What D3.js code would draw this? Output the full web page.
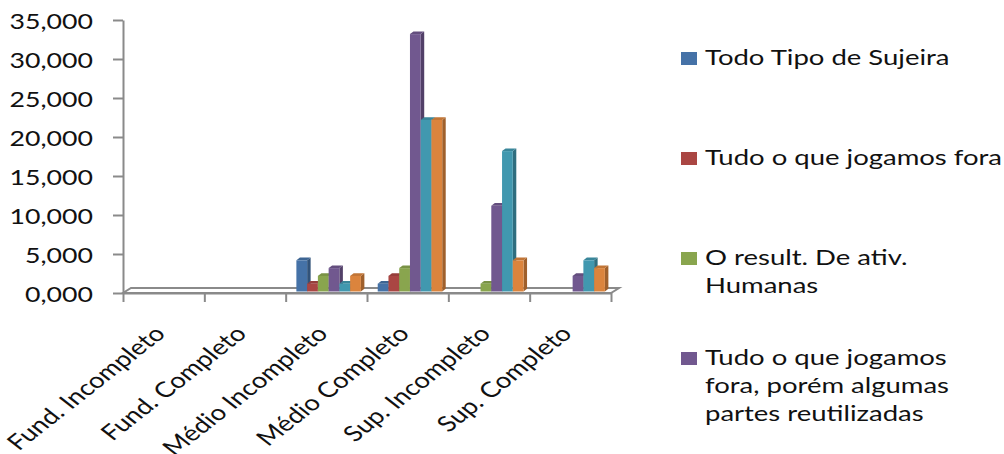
<!DOCTYPE html>
<html>
<head>
<meta charset="utf-8">
<script src="https://cdn.jsdelivr.net/npm/d3@7"></script>
<style>
  html, body { margin: 0; padding: 0; background: #fff; overflow: hidden; }
  svg { display: block; font-family: Lato, "Open Sans", sans-serif; }
</style>
</head>
<body>
<svg id="chart" width="1004" height="454"></svg>
<script>
// Categories (education level) and one array of values per series
const categories = ["Fund. Incompleto", "Fund. Completo", "Médio Incompleto", "Médio Completo", "Sup. Incompleto", "Sup. Completo"];
const seriesNames = [
  "Todo Tipo de Sujeira",
  "Tudo o que jogamos fora",
  "O result. De ativ. Humanas",
  "Tudo o que jogamos fora, porém algumas partes reutilizadas",
  "Série 5",
  "Série 6"
];
const todoTipo      = [0, 0, 4, 1, 0, 0];
const tudoFora      = [0, 0, 1, 2, 0, 0];
const resultAtiv    = [0, 0, 2, 3, 1, 0];
const foraReutiliz  = [0, 0, 3, 33, 11, 2];
const serie5        = [0, 0, 1, 22, 18, 4];
const serie6        = [0, 0, 2, 22, 4, 3];
const seriesValues = [todoTipo, tudoFora, resultAtiv, foraReutiliz, serie5, serie6];
const yTicks = [0, 5, 10, 15, 20, 25, 30, 35];
const colors = ["#4572A7", "#AA4643", "#89A54E", "#71588F", "#4198AF", "#DB843D"];

// Layout
const SX = 1.27;            // horizontal stretch applied to axis text
const SXL = 1.25;           // horizontal stretch for legend text
const plotL = 123, plotR = 611, plotT = 20, plotB = 293;
const depthX = 8, depthY = 5;      // floor depth
const barDX = 3.5, barDY = 2.7;    // bar side/top depth
const barShiftX = 2.3, barShiftY = -1.5;
const axisColor = "#8a8a8a";
const svgH = 454;

const svg = d3.select("#chart");
const ptBR = d3.formatLocale({ decimal: ",", thousands: ".", grouping: [3], currency: ["R$", ""] });
const fmt = ptBR.format(".3f");

const y = d3.scaleLinear().domain([0, 35]).range([plotB, plotT]);
const x0 = d3.scaleBand().domain(categories).range([plotL, plotR]).paddingInner(0.207).paddingOuter(0.1035);
const x1 = d3.scaleBand().domain(d3.range(seriesNames.length)).range([0, x0.bandwidth()]);
const xb = d3.scaleLinear().domain([0, categories.length]).range([plotL, plotR]);

// Floor
svg.append("path")
  .attr("d", `M${plotL},${plotB}L${plotR},${plotB}L${plotR + depthX},${plotB - depthY}L${plotL + depthX},${plotB - depthY}Z`)
  .attr("fill", "#fff").attr("stroke", axisColor).attr("stroke-width", 2);

// Category tick marks along the front edge
const xAxis = svg.append("g").attr("transform", `translate(0,${plotB})`)
  .call(d3.axisBottom(xb).tickValues(d3.range(categories.length + 1)).tickSize(9).tickSizeOuter(0).tickFormat(""));
xAxis.select(".domain").attr("stroke", axisColor).attr("stroke-width", 2);
xAxis.selectAll(".tick line").attr("stroke", axisColor).attr("stroke-width", 2);

// Value axis
const yAxis = svg.append("g").attr("transform", `translate(${plotL},0)`)
  .call(d3.axisLeft(y).tickValues(yTicks).tickSize(10).tickSizeOuter(0).tickFormat(fmt));
yAxis.select(".domain").attr("stroke", axisColor).attr("stroke-width", 2);
yAxis.selectAll(".tick line").attr("stroke", axisColor).attr("stroke-width", 2);
yAxis.selectAll(".tick text")
  .attr("x", null).attr("dy", null)
  .attr("text-anchor", "end")
  .attr("transform", "translate(-30,8.5) scale(" + SX + ",1)")
  .attr("font-size", 21).attr("font-family", "Lato").attr("fill", "#111");

// 3D bars
const bars = svg.append("g");
categories.forEach((cat, ci) => {
  seriesValues.forEach((vals, si) => {
    const v = vals[ci];
    if (!(v > 0)) return;
    const bx = x0(cat) + x1(si) + barShiftX;
    const w = x1.bandwidth();
    const yt = y(v) + barShiftY;
    const yb = y(0) + barShiftY;
    const c = d3.color(colors[si]);
    const g = bars.append("g");
    // right side face
    g.append("path")
      .attr("d", `M${bx + w},${yt}L${bx + w + barDX},${yt - barDY}L${bx + w + barDX},${yb - barDY}L${bx + w},${yb}Z`)
      .attr("fill", c.darker(0.9));
    // top face
    g.append("path")
      .attr("d", `M${bx},${yt}L${bx + barDX},${yt - barDY}L${bx + w + barDX},${yt - barDY}L${bx + w},${yt}Z`)
      .attr("fill", c.darker(0.35));
    // front face
    g.append("rect")
      .attr("x", bx).attr("y", yt).attr("width", w).attr("height", yb - yt)
      .attr("fill", colors[si]);
  });
});

// Category labels, rotated
svg.append("g").selectAll("text").data(categories).join("text")
  .attr("text-anchor", "end")
  .attr("transform", d => `translate(${x0(d) + x0.bandwidth() / 2 + 3},335) scale(${SX},1) rotate(-45)`)
  .attr("font-size", 21.6).attr("fill", "#111")
  .text(d => d);

// Legend: entries evenly spaced; entries that would not fit are left out
const legend = svg.append("g");
const maxLine = 298 / SXL;
const lineH = 28, entryStep = 100;
seriesNames.forEach((name, i) => {
  const ly = 65 + i * entryStep;
  const g = legend.append("g");
  const t = g.append("text")
    .attr("transform", `translate(705,${ly}) scale(${SXL},1)`)
    .attr("font-size", 22).attr("fill", "#111");
  const words = name.split(" ");
  let line = [], lineNo = 0;
  let ts = t.append("tspan").attr("x", 0).attr("y", 0);
  words.forEach(wd => {
    line.push(wd);
    ts.text(line.join(" "));
    if (ts.node().getComputedTextLength() > maxLine && line.length > 1) {
      line.pop();
      ts.text(line.join(" "));
      line = [wd];
      lineNo++;
      ts = t.append("tspan").attr("x", 0).attr("y", lineNo * lineH).text(wd);
    }
  });
  if (ly - 15 + lineNo * lineH + 6 > svgH || ly > svgH - 10) { g.remove(); return; }
  g.insert("rect", "text")
    .attr("x", 681).attr("y", ly - 13).attr("width", 16).attr("height", 13)
    .attr("fill", colors[i]);
});
</script>
</body>
</html>
